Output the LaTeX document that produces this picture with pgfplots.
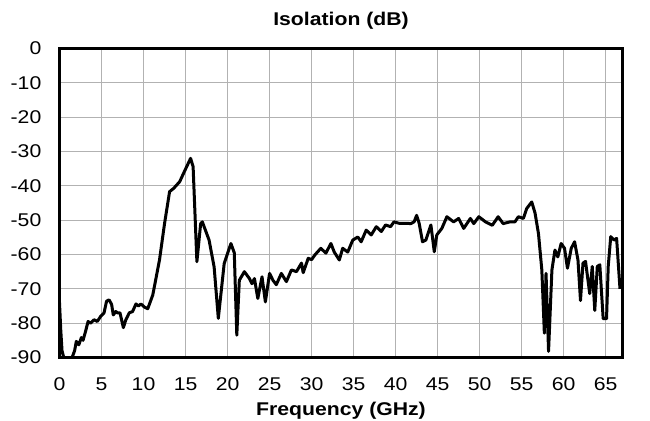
\documentclass[border=0pt]{standalone}
\usepackage{fontspec}
\setmainfont{Liberation Sans}[FakeStretch=1.15]
\usepackage{pgfplots}
\pgfplotsset{compat=1.18}
\begin{document}
\begin{tikzpicture}
\begin{axis}[
 scale only axis, width=563bp, height=309bp,
 xmin=0, xmax=67, ymin=-90, ymax=0,
 xtick={0,5,10,15,20,25,30,35,40,45,50,55,60,65},
 xticklabels={0,5,10,15,20,25,30,35,40,45,50,55,60,65},
 ytick={-90,-80,-70,-60,-50,-40,-30,-20,-10,0},
 yticklabels={-90,-80,-70,-60,-50,-40,-30,-20,-10,0},
 major tick length=0pt,
 grid=major, grid style={color=black!30, line width=1.1bp},
 axis line style={line width=2.8bp},
 tick label style={font=\fontsize{18.5}{22}\selectfont, inner sep=0pt},
 yticklabel style={anchor=east, xshift=-18bp},
 xticklabel style={anchor=north, yshift=-20bp},
 title={Isolation (dB)},
 title style={at={(0.5,1)}, anchor=base, yshift=16.8bp, inner sep=0pt, font=\fontsize{18.5}{22}\selectfont\bfseries},
 xlabel={Frequency (GHz)},
 xlabel style={at={(0.5,0)}, anchor=base, yshift=-57.5bp, inner sep=0pt, font=\fontsize{18.5}{22}\selectfont\bfseries},
]
\addplot[black, line width=3bp, line join=round] coordinates {
(0.0,-74) (0.15,-82) (0.3,-88) (0.5,-90) (1.0,-90) (1.5,-90) (1.8,-88)
(2.0,-85.3) (2.3,-86.3) (2.6,-84.2) (2.8,-85) (3.1,-82.4) (3.4,-79.5)
(3.7,-80) (4.1,-79) (4.5,-79.5) (4.9,-78) (5.3,-77) (5.6,-73.6) (5.9,-73.2)
(6.2,-74.5) (6.4,-77.6) (6.7,-76.6) (6.9,-77) (7.2,-77) (7.6,-81.3)
(7.9,-79) (8.3,-77) (8.7,-76.6) (9.1,-74.4) (9.4,-75) (9.7,-74.4)
(10.1,-75.3) (10.5,-75.8) (11.1,-71.8) (11.9,-61.6) (12.5,-51) (13.1,-41.7)
(13.6,-40.7) (14.3,-38.8) (14.85,-35.9) (15.6,-32) (15.9,-34.4)
(16.35,-62.1) (16.8,-51) (17.0,-50.5) (17.8,-55.8) (18.4,-63.6)
(18.9,-78.6) (19.6,-62.6) (20.4,-56.8) (20.8,-59.5) (21.1,-83.5)
(21.4,-67.5) (22.0,-65) (22.6,-67) (22.9,-68.5) (23.2,-67) (23.6,-72.8) (24.1,-66.5)
(24.5,-73.8) (25.0,-65.5) (25.4,-67.5) (25.8,-68.8) (26.4,-65.5) (27.0,-67.9)
(27.6,-64.5) (28.2,-65) (28.8,-62.5) (29.0,-65.3) (29.6,-61.1)
(30.0,-61.5) (30.4,-60.1) (31.1,-58.2) (31.7,-59.6) (32.3,-56.8) (32.7,-59.3)
(33.3,-61.6) (33.7,-58.2) (34.3,-59.3) (34.9,-55.8) (35.5,-54.9)
(35.9,-56.3) (36.5,-52.9) (37.1,-54.3) (37.7,-51.9) (38.3,-53.3)
(38.8,-51.4) (39.4,-51.9) (39.8,-50.5) (40.4,-50.9) (41.2,-50.9)
(41.8,-51) (42.2,-50.5) (42.5,-48.6) (42.8,-50.9) (43.2,-56.3)
(43.6,-55.8) (44.2,-51.4) (44.6,-59.2) (44.9,-54.3) (45.5,-52.4)
(46.1,-49) (46.9,-50.5) (47.5,-49.5) (48.1,-52.4) (48.9,-49.5)
(49.3,-51) (49.9,-49) (50.7,-50.5) (51.5,-51.5) (52.2,-49) (52.8,-51)
(53.6,-50.5) (54.2,-50.5) (54.6,-49) (55.2,-49.5) (55.6,-46.6)
(56.2,-44.7) (56.6,-48) (57.0,-53.9) (57.4,-64.5) (57.7,-82.9)
(57.9,-65.5) (58.2,-88.2) (58.6,-64.5) (58.96,-58.7) (59.3,-60.7)
(59.7,-56.8) (60.1,-58.2) (60.45,-64) (60.9,-58.2) (61.3,-56.3)
(61.7,-61.6) (62.0,-73.4) (62.3,-62.5) (62.6,-62) (63.1,-71.4)
(63.4,-63.5) (63.7,-76.3) (64.0,-63.5) (64.3,-63) (64.7,-78.7)
(65.1,-78.7) (65.3,-63.5) (65.6,-54.8) (66.0,-55.8) (66.3,-55.3) (66.7,-70)
};
\end{axis}
\path (current axis.south west) ++(-59.5bp,-63.5bp) rectangle ++(650bp,421bp);
\end{tikzpicture}
\end{document}
